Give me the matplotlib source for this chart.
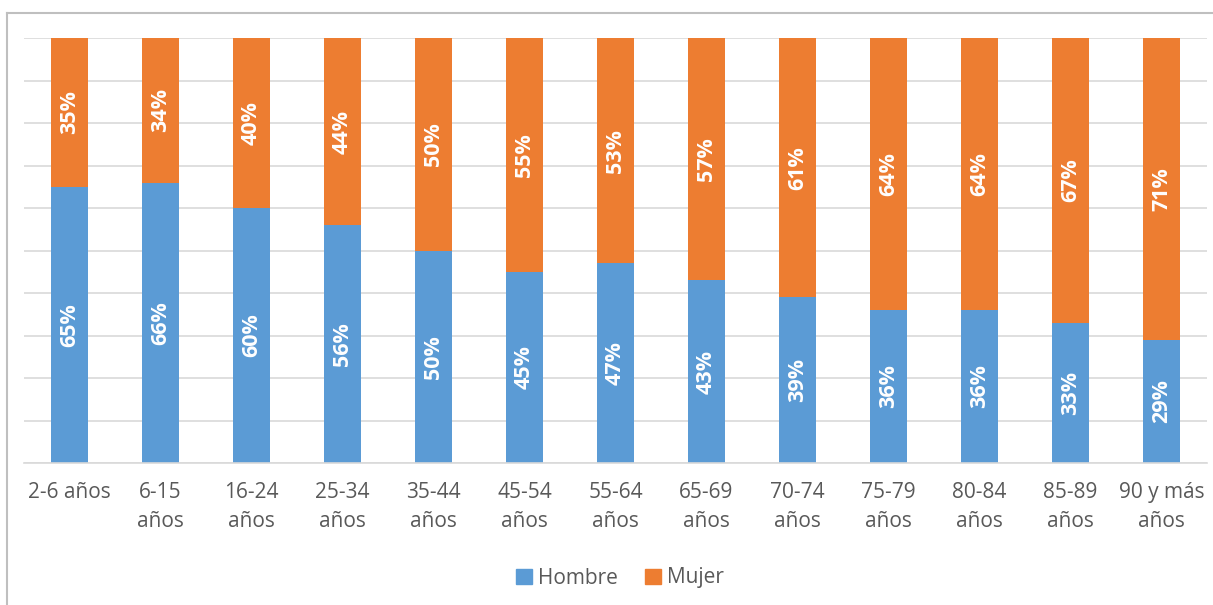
import matplotlib.pyplot as plt
import numpy as np
from matplotlib.lines import Line2D

plt.rcParams.update({
    'font.family': ['Open Sans', 'DejaVu Sans'],
    'figure.facecolor': 'white',
    'axes.facecolor': 'white',
})

COLORS = {'hombre': '#5B9BD5', 'mujer': '#ED7D31'}
TEXT = '#595959'

categories = ['2-6 años', '6-15\naños', '16-24\naños', '25-34\naños', '35-44\naños',
              '45-54\naños', '55-64\naños', '65-69\naños', '70-74\naños', '75-79\naños',
              '80-84\naños', '85-89\naños', '90 y más\naños']
hombre = [65, 66, 60, 56, 50, 45, 47, 43, 39, 36, 36, 33, 29]
mujer = [35, 34, 40, 44, 50, 55, 53, 57, 61, 64, 64, 67, 71]

fig = plt.figure(figsize=(12.13, 6.05), dpi=100)
ax = fig.add_axes([24 / 1213, 1 - 463 / 605, (1207 - 24) / 1213, 425 / 605])

x = np.arange(len(categories))
w = 0.40
h = np.array(hombre, dtype=float)
m = np.array(mujer, dtype=float)
tot = h + m
hp = h / tot * 100
mp = m / tot * 100

ax.bar(x, hp, w, color=COLORS['hombre'], label='Hombre', zorder=2)
ax.bar(x, mp, w, bottom=hp, color=COLORS['mujer'], label='Mujer', zorder=2)

for i in range(len(x)):
    ax.text(x[i], hp[i] / 2, f'{hombre[i]}%', rotation=90, ha='center', va='center',
            color='white', fontsize=15.5, fontweight='bold', zorder=3)
    ax.text(x[i], hp[i] + mp[i] / 2, f'{mujer[i]}%', rotation=90, ha='center', va='center',
            color='white', fontsize=15.5, fontweight='bold', zorder=3)

ax.set_xlim(-0.5, 12.5)
ax.set_ylim(0, 100)
ax.set_yticks(np.arange(0, 101, 10))
ax.set_yticklabels([])
ax.tick_params(axis='y', length=0)
ax.grid(axis='y', color='#D9D9D9', linewidth=1.2, zorder=0)
ax.set_xticks(x)
ax.set_xticklabels(categories, fontsize=15, color=TEXT, linespacing=1.45)
ax.tick_params(axis='x', length=0, pad=14)
for s in ['top', 'right', 'left']:
    ax.spines[s].set_visible(False)
ax.spines['bottom'].set_color('#D9D9D9')
ax.spines['bottom'].set_linewidth(1.2)

handles = [plt.Rectangle((0, 0), 1, 1, color=COLORS['hombre']),
           plt.Rectangle((0, 0), 1, 1, color=COLORS['mujer'])]
fig.legend(handles, ['Hombre', 'Mujer'], loc='center', bbox_to_anchor=(620 / 1213, 1 - 578 / 605),
           ncol=2, frameon=False, fontsize=15, labelcolor=TEXT, handlelength=0.75,
           handleheight=0.75, handletextpad=0.3, columnspacing=1.3)

# outer border (top and left visible)
fig.add_artist(Line2D([7 / 1213, 1], [1 - 13 / 605, 1 - 13 / 605], color='#BFBFBF', linewidth=1.5))
fig.add_artist(Line2D([7 / 1213, 7 / 1213], [0, 1 - 13 / 605], color='#BFBFBF', linewidth=1.5))

fig.savefig('out.png', dpi=100)
